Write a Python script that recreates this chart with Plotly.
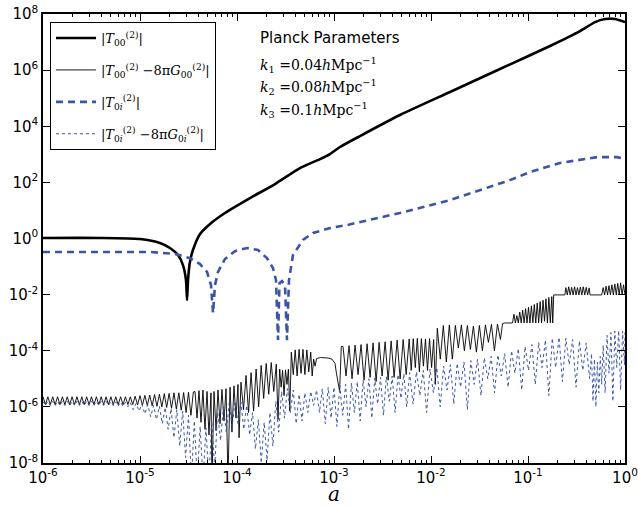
import numpy as np
import plotly.graph_objects as go

# ---------------- data (log10 a, log10 value) ----------------
# |T00|  (thick black)
T00_loga = [-6.0, -5.412, -5.0, -4.794, -4.691, -4.608, -4.557, -4.526, -4.515, -4.505, -4.485,
            -4.454, -4.381, -4.278, -4.124, -3.866, -3.608, -3.351, -3.144, -3.041, -2.938,
            -2.732, -2.320, -1.804, -1.289, -0.773, -0.464, -0.309, -0.206, -0.103, 0.0]
T00_logv = [0.02, 0.02, -0.02, -0.16, -0.34, -0.59, -0.95, -1.48, -2.19, -1.48, -0.84,
            -0.41, 0.16, 0.52, 0.91, 1.44, 1.94, 2.51, 2.83, 3.01, 3.26,
            3.65, 4.40, 5.22, 6.04, 6.86, 7.39, 7.71, 7.82, 7.82, 7.71]

# |T0i|  (dashed blue)
T0i_loga = [-6.0, -4.897, -4.639, -4.485, -4.381, -4.309, -4.268, -4.247, -4.227, -4.196, -4.124,
            -4.021, -3.897, -3.784, -3.691, -3.629, -3.598, -3.577, -3.562, -3.536, -3.505,
            -3.485, -3.464, -3.423, -3.320, -3.216, -3.041, -2.866, -2.320, -1.804, -1.186,
            -0.979, -0.670, -0.289, -0.082, 0.0]
T0i_logv = [-0.48, -0.48, -0.55, -0.70, -0.91, -1.19, -1.66, -2.66, -1.66, -1.19, -0.73,
            -0.45, -0.34, -0.41, -0.70, -1.05, -1.48, -3.62, -1.59, -1.52, -1.66,
            -3.62, -1.48, -0.59, -0.05, 0.20, 0.37, 0.48, 0.91, 1.37, 2.08,
            2.37, 2.69, 2.90, 2.90, 2.83]

# |T00 - 8 pi G00|  (thin black)
D00_loga = [
    -6.000, -5.975, -5.950, -5.925, -5.900, -5.875, -5.850, -5.825, -5.800, -5.775, -5.750, -5.725,
    -5.700, -5.675, -5.650, -5.625, -5.600, -5.575, -5.550, -5.525, -5.500, -5.475, -5.450, -5.425,
    -5.400, -5.375, -5.350, -5.325, -5.300, -5.275, -5.250, -5.225, -5.200, -5.175, -5.150, -5.125,
    -5.100,
    -5.075, -5.050, -5.025, -5.000, -4.975, -4.950, -4.925, -4.900, -4.875, -4.850, -4.825, -4.800,
    -4.775, -4.750, -4.725, -4.700, -4.675, -4.650, -4.625, -4.600, -4.575, -4.550, -4.525, -4.500,
    -4.475, -4.450,
    -4.433, -4.412, -4.392, -4.371, -4.351, -4.330, -4.309, -4.289, -4.268, -4.258, -4.237, -4.216,
    -4.196, -4.175, -4.155, -4.134, -4.113, -4.093, -4.072, -4.052, -4.031, -4.010, -3.990, -3.979,
    -3.959,
    -3.933, -3.907, -3.881, -3.855, -3.829, -3.803, -3.777, -3.751, -3.725, -3.699, -3.673, -3.647,
    -3.621, -3.595, -3.577, -3.560,
    -3.545, -3.530, -3.515, -3.500, -3.485, -3.470, -3.456,
    -3.440, -3.420, -3.400, -3.380, -3.360, -3.340, -3.320, -3.300, -3.280, -3.260, -3.240, -3.225,
    -3.210, -3.195, -3.180, -3.140, -3.100, -3.060, -3.020, -2.990, -2.975, -2.942, -2.925,
    -2.907, -2.876, -2.845, -2.814, -2.783, -2.752, -2.721, -2.690, -2.659, -2.628, -2.597, -2.566,
    -2.535, -2.504, -2.473, -2.442, -2.411, -2.380, -2.349, -2.318, -2.287, -2.256, -2.225,
    -2.204, -2.183, -2.162, -2.141, -2.120, -2.099, -2.078, -2.057, -2.036, -2.015, -1.994, -1.973,
    -1.955, -1.935,
    -1.904, -1.873, -1.842, -1.811, -1.780, -1.749, -1.718, -1.687, -1.656, -1.625, -1.594, -1.563,
    -1.532, -1.501, -1.470, -1.439, -1.408, -1.377, -1.346, -1.315, -1.284, -1.262,
    -1.240, -1.175,
    -1.160, -1.145, -1.130, -1.115, -1.100, -1.085, -1.070, -1.055, -1.040, -1.025, -1.010, -0.995,
    -0.980, -0.965, -0.950, -0.935, -0.920, -0.905, -0.890, -0.875, -0.860, -0.845, -0.830, -0.815,
    -0.800, -0.785, -0.770, -0.755, -0.745,
    -0.735, -0.620,
    -0.610, -0.595, -0.580, -0.565, -0.550, -0.535, -0.520, -0.505, -0.490, -0.475, -0.460, -0.445,
    -0.430, -0.415, -0.400, -0.385, -0.370, -0.360,
    -0.350, -0.240,
    -0.225, -0.210, -0.195, -0.180, -0.165, -0.150, -0.135, -0.120, -0.105, -0.090, -0.075, -0.060,
    -0.045, -0.030, -0.015, 0.000]
D00_logv = [
    -5.64, -5.92, -5.64, -5.92, -5.64, -5.92, -5.64, -5.92, -5.64, -5.92, -5.64, -5.92,
    -5.64, -5.92, -5.64, -5.92, -5.64, -5.92, -5.64, -5.92, -5.64, -5.92, -5.64, -5.92,
    -5.64, -5.92, -5.64, -5.92, -5.64, -5.92, -5.64, -5.92, -5.64, -5.92, -5.64, -5.92,
    -5.64,
    -5.92, -5.62, -5.93, -5.60, -5.94, -5.59, -5.95, -5.58, -5.96, -5.56, -5.98, -5.55,
    -6.00, -5.53, -6.02, -5.52, -6.05, -5.50, -6.08, -5.50, -6.12, -5.49, -6.20, -5.48,
    -6.30, -5.47,
    -5.45, -6.40, -5.42, -6.55, -5.40, -6.80, -5.45, -7.00, -5.50, -8.60, -5.45, -6.85,
    -5.40, -6.60, -5.38, -6.50, -5.35, -8.60, -5.30, -6.90, -5.25, -6.40, -5.20, -7.10,
    -5.12,
    -6.10, -4.88, -6.20, -4.78, -6.15, -4.65, -6.00, -4.52, -5.70, -4.45, -5.55, -4.42,
    -5.45, -4.48, -6.45, -4.65,
    -5.30, -4.70, -5.60, -4.68, -5.20, -4.66, -6.15,
    -4.05, -4.85, -3.97, -4.90, -3.95, -4.80, -3.95, -4.85, -3.97, -4.75, -4.05, -4.90,
    -4.30, -4.55, -4.28, -4.24, -4.24, -4.26, -4.30, -4.45, -4.80, -5.45, -3.85,
    -3.85, -4.90, -3.82, -5.00, -3.80, -4.85, -3.78, -5.05, -3.75, -4.95, -3.72, -5.10,
    -3.70, -4.90, -3.68, -5.05, -3.65, -4.95, -3.62, -5.00, -3.60, -4.85, -3.58,
    -4.70, -3.57, -4.60, -3.56, -4.75, -3.57, -4.55, -3.58, -4.70, -3.57, -4.60, -3.60,
    -5.20, -3.20,
    -4.30, -3.10, -4.40, -3.08, -4.30, -3.10, -3.90, -3.08, -4.00, -3.10, -3.95, -3.12,
    -4.05, -3.10, -4.00, -3.08, -3.70, -3.06, -4.00, -3.05, -3.60, -3.03,
    -3.01, -3.01,
    -3.01, -2.70, -3.01, -2.75, -3.01, -2.62, -3.01, -2.55, -3.01, -2.50, -3.01, -2.45,
    -3.01, -2.40, -3.00, -2.35, -3.01, -2.30, -3.00, -2.25, -3.01, -2.20, -2.95, -2.15,
    -3.01, -2.10, -3.00, -2.07, -3.01,
    -2.01, -2.01,
    -1.75, -2.01, -1.72, -2.01, -1.74, -2.01, -1.72, -2.01, -1.75, -2.01, -1.73, -2.01,
    -1.72, -2.01, -1.74, -2.01, -1.76, -2.01,
    -2.01, -2.01,
    -1.75, -2.01, -1.70, -2.01, -1.68, -2.01, -1.65, -2.01, -1.62, -2.01, -1.60, -2.01,
    -1.58, -2.01, -1.65, -2.01]

# |T0i - 8 pi G0i|  (dotted blue)
D0i_loga = [
    -6.000, -5.975, -5.950, -5.925, -5.900, -5.875, -5.850, -5.825, -5.800, -5.775, -5.750, -5.725,
    -5.700, -5.675, -5.650, -5.625, -5.600, -5.575, -5.550, -5.525, -5.500, -5.475, -5.450, -5.425,
    -5.400, -5.375, -5.350, -5.325, -5.300, -5.275, -5.250, -5.225, -5.200, -5.175, -5.150, -5.125,
    -5.100,
    -5.070, -5.040, -5.010, -4.980, -4.950, -4.920, -4.890, -4.860, -4.830, -4.800, -4.770, -4.740,
    -4.710, -4.680, -4.650, -4.620, -4.590, -4.560, -4.530, -4.500, -4.470, -4.440, -4.410, -4.380,
    -4.350, -4.320, -4.290, -4.260, -4.230, -4.200,
    -4.170, -4.140, -4.110, -4.080, -4.050, -4.020, -3.990, -3.960, -3.930, -3.900, -3.870, -3.840,
    -3.810, -3.780, -3.750, -3.720, -3.690, -3.660, -3.630, -3.600, -3.570, -3.540, -3.510, -3.480,
    -3.450,
    -3.420, -3.390, -3.360, -3.330, -3.300, -3.270, -3.240, -3.210, -3.180, -3.150, -3.120, -3.090,
    -3.060, -3.030, -3.000, -2.970, -2.940, -2.910, -2.880, -2.850, -2.820, -2.790, -2.760, -2.730,
    -2.700, -2.670, -2.640, -2.610, -2.580, -2.550, -2.520, -2.490, -2.460, -2.430, -2.400, -2.370,
    -2.340, -2.310, -2.280, -2.250, -2.220,
    -2.185, -2.150, -2.115, -2.080, -2.045, -2.010, -1.975, -1.940, -1.905, -1.870, -1.835, -1.800,
    -1.765, -1.730, -1.695, -1.660, -1.625, -1.590, -1.555, -1.520, -1.485, -1.450, -1.415, -1.380,
    -1.345, -1.310, -1.275, -1.240, -1.205, -1.170, -1.135, -1.100, -1.065, -1.030, -0.995, -0.960,
    -0.925, -0.890, -0.855, -0.820, -0.785, -0.750, -0.715, -0.680, -0.645, -0.610, -0.575, -0.540,
    -0.505, -0.470, -0.435, -0.400, -0.365,
    -0.345, -0.330, -0.315, -0.300, -0.285, -0.270, -0.255, -0.240,
    -0.225, -0.205, -0.185, -0.165, -0.145, -0.125, -0.105, -0.085, -0.065, -0.045, -0.025, -0.005,
    0.000]
D0i_logv = [
    -5.80, -5.95, -5.80, -5.95, -5.80, -5.95, -5.80, -5.95, -5.80, -5.95, -5.80, -5.95,
    -5.80, -5.95, -5.80, -5.95, -5.80, -5.95, -5.80, -5.95, -5.80, -5.95, -5.80, -5.95,
    -5.80, -5.95, -5.80, -5.95, -5.81, -5.96, -5.82, -5.97, -5.83, -5.98, -5.84, -6.00,
    -5.85,
    -6.10, -5.88, -6.15, -5.90, -6.25, -5.92, -6.35, -5.95, -6.45, -5.98, -6.60, -6.02,
    -6.80, -6.06, -7.10, -6.10, -7.40, -6.15, -7.80, -6.30, -8.60, -6.50, -8.60, -6.70,
    -8.60, -6.75, -8.60, -6.50, -8.20, -6.20,
    -7.20, -6.00, -6.90, -5.85, -6.70, -5.80, -6.60, -5.82, -6.80, -5.95, -7.00, -6.20,
    -7.50, -6.45, -8.00, -6.55, -7.90, -6.20, -7.40, -5.80, -6.90, -5.45, -6.40, -5.35,
    -6.20,
    -5.40, -6.60, -5.55, -6.50, -5.50, -6.20, -5.45, -5.95, -5.40, -6.20, -5.35, -6.60,
    -5.30, -6.40, -5.30, -6.70, -5.25, -6.30, -5.20, -6.80, -5.15, -6.20, -5.10, -6.50,
    -5.05, -6.00, -5.00, -6.40, -4.98, -5.90, -4.95, -6.30, -4.92, -5.80, -4.90, -6.20,
    -4.85, -5.70, -4.82, -6.00, -4.78,
    -5.90, -4.75, -5.60, -4.70, -6.20, -4.65, -5.50, -4.60, -6.00, -4.55, -5.40, -4.50,
    -5.90, -4.45, -5.30, -4.40, -6.10, -4.35, -5.20, -4.30, -5.60, -4.25, -5.00, -4.20,
    -5.50, -4.15, -4.90, -4.10, -5.30, -4.00, -4.80, -3.92, -5.40, -3.85, -4.70, -3.78,
    -5.20, -3.70, -4.60, -3.62, -5.60, -3.55, -4.60, -3.52, -5.10, -3.55, -4.50, -3.60,
    -5.30, -3.65, -4.70, -3.72, -5.00,
    -4.10, -5.80, -4.30, -6.00, -4.40, -5.50, -4.20, -5.20,
    -3.80, -5.50, -3.45, -4.80, -3.35, -5.80, -3.30, -4.60, -3.28, -5.40, -3.30, -4.50,
    -3.35]

x_tick_labels = ["10<sup>-6</sup>", "10<sup>-5</sup>", "10<sup>-4</sup>", "10<sup>-3</sup>",
                 "10<sup>-2</sup>", "10<sup>-1</sup>", "10<sup>0</sup>"]
y_tick_labels = ["10<sup>-8</sup>", "10<sup>-6</sup>", "10<sup>-4</sup>", "10<sup>-2</sup>",
                 "10<sup>0</sup>", "10<sup>2</sup>", "10<sup>4</sup>", "10<sup>6</sup>", "10<sup>8</sup>"]
x_tick_vals = [1e-6, 1e-5, 1e-4, 1e-3, 1e-2, 1e-1, 1e0]
y_tick_vals = [1e-8, 1e-6, 1e-4, 1e-2, 1e0, 1e2, 1e4, 1e6, 1e8]

legend_names = ["|<i>T</i><sub>00</sub><sup>(2)</sup>|",
                "|<i>T</i><sub>00</sub><sup>(2)</sup> −8π<i>G</i><sub>00</sub><sup>(2)</sup>|",
                "|<i>T</i><sub>0<i>i</i></sub><sup>(2)</sup>|",
                "|<i>T</i><sub>0<i>i</i></sub><sup>(2)</sup> −8π<i>G</i><sub>0<i>i</i></sub><sup>(2)</sup>|"]

BLUE = "#3a55a6"

def tv(arr):
    return 10 ** np.array(arr, dtype=float)

fig = go.Figure()
fig.add_trace(go.Scatter(x=tv(T00_loga), y=tv(T00_logv), mode="lines", name=legend_names[0],
                         legendgroup="g1",
                         line=dict(color="black", width=2.6, shape="spline", smoothing=0.6)))
fig.add_trace(go.Scatter(x=tv(D00_loga), y=tv(D00_logv), mode="lines", name=legend_names[1],
                         legendgroup="g2",
                         line=dict(color="black", width=0.9)))
fig.add_trace(go.Scatter(x=tv(T0i_loga), y=tv(T0i_logv), mode="lines", name=legend_names[2],
                         legendgroup="g3",
                         line=dict(color=BLUE, width=2.6, dash="7px,5px")))
fig.add_trace(go.Scatter(x=tv(D0i_loga), y=tv(D0i_logv), mode="lines", name=legend_names[3],
                         legendgroup="g4",
                         line=dict(color=BLUE, width=1, dash="dot")))

minor_x = [m * 10.0 ** e for e in range(-6, 0) for m in range(2, 10)]

fig.update_xaxes(type="log", range=[-6, 0], tickvals=x_tick_vals, ticktext=x_tick_labels,
                 automargin=False,
                 showgrid=False, zeroline=False, showline=True, linecolor="black", linewidth=1.5,
                 mirror="ticks", ticks="inside", ticklen=7, tickwidth=1, tickcolor="black",
                 minor=dict(tickvals=minor_x, ticks="inside", ticklen=3.5, tickcolor="black", showgrid=False),
                 tickfont=dict(family="DejaVu Sans", size=15, color="black"))
fig.update_yaxes(type="log", range=[-8, 8], tickvals=y_tick_vals, ticktext=y_tick_labels,
                 automargin=False,
                 showgrid=False, zeroline=False, showline=True, linecolor="black", linewidth=1.5,
                 mirror="ticks", ticks="inside", ticklen=7, tickwidth=1, tickcolor="black",
                 tickfont=dict(family="DejaVu Sans", size=15, color="black"))

# x axis title
fig.add_annotation(x=0.5, y=-0.069, xref="paper", yref="paper", xanchor="center", yanchor="middle",
                   text="<i>a</i>", showarrow=False,
                   font=dict(family="DejaVu Serif", size=20, color="black"))

fig.add_annotation(x=0.369, y=0.947, xref="paper", yref="paper", xanchor="left", yanchor="middle",
                   text="Planck Parameters", showarrow=False,
                   font=dict(family="DejaVu Sans", size=15, color="black"))
k_lines = ["<i>k</i><sub>1</sub> =0.04<i>h</i>Mpc<sup>−1</sup>",
           "<i>k</i><sub>2</sub> =0.08<i>h</i>Mpc<sup>−1</sup>",
           "<i>k</i><sub>3</sub> =0.1<i>h</i>Mpc<sup>−1</sup>"]
k_ypos = [0.887, 0.837, 0.787]
for t, yy in zip(k_lines, k_ypos):
    fig.add_annotation(x=0.369, y=yy, xref="paper", yref="paper", xanchor="left",
                       yanchor="middle", text=t, showarrow=False,
                       font=dict(family="DejaVu Serif", size=14, color="black"))

fig.update_layout(width=638, height=506, margin=dict(l=43, r=13, t=14, b=43),
                  paper_bgcolor="white", plot_bgcolor="white",
                  legend=dict(x=0.012, y=0.982, xanchor="left", yanchor="top",
                              bordercolor="black", borderwidth=1, bgcolor="white",
                              font=dict(family="DejaVu Serif", size=13, color="black"),
                              tracegroupgap=12, itemwidth=40),
                  showlegend=True)

fig.write_html("out.html", config={"displayModeBar": False},
               post_script="document.body.style.margin='0px';document.body.style.padding='0px';")
